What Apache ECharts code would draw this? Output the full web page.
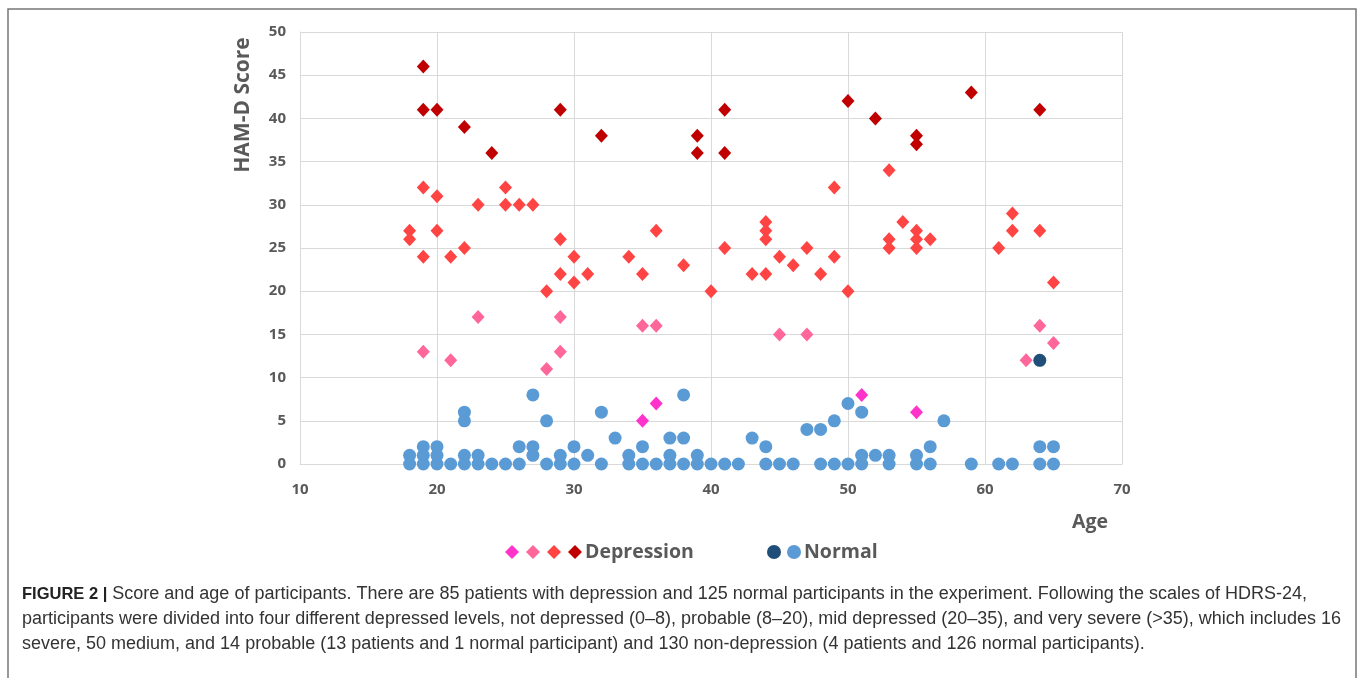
<!DOCTYPE html>
<html>
<head>
<meta charset="utf-8">
<script src="https://cdn.jsdelivr.net/npm/echarts@6/dist/echarts.min.js"></script>
<style>
html,body{margin:0;padding:0;background:#fff;}
#chart{width:1360px;height:678px;}
</style>
</head>
<body>
<div id="chart"></div>
<script>
// ---- data: [age, HAM-D score] ----
var notDepressedPatients = [[35,5],[36,7],[51,8],[55,6]];
var probablePatients = [[19,13],[21,12],[23,17],[28,11],[29,17],[29,13],[35,16],[36,16],[45,15],[47,15],[63,12],[64,16],[65,14]];
var midDepressed = [
  [18,27],[18,26],[19,32],[19,24],[20,31],[20,27],[21,24],[22,25],[23,30],[25,32],[25,30],[26,30],[27,30],
  [28,20],[29,26],[29,22],[30,24],[30,21],[31,22],[34,24],[35,22],[36,27],[38,23],[40,20],[41,25],[43,22],
  [44,28],[44,27],[44,26],[44,22],[45,24],[46,23],[47,25],[48,22],[49,32],[49,24],[50,20],
  [53,34],[53,26],[53,25],[54,28],[55,27],[55,26],[55,25],[56,26],[61,25],[62,29],[62,27],[64,27],[65,21]
];
var verySevere = [[19,46],[19,41],[20,41],[22,39],[24,36],[29,41],[32,38],[39,38],[39,36],[41,41],[41,36],[50,42],[52,40],[55,38],[55,37],[59,43],[64,41]];
var normalProbable = [[64,12]];
var normal = [
  [18,0],[18,1],[19,0],[19,1],[19,2],[20,0],[20,1],[20,2],[21,0],[22,0],[22,1],[22,5],[22,6],[23,0],[23,1],
  [24,0],[25,0],[26,0],[26,2],[27,1],[27,2],[27,8],[28,0],[28,5],[29,0],[29,1],[30,0],[30,2],[31,1],[32,0],[32,6],
  [33,3],[34,0],[34,1],[35,0],[35,2],[36,0],[37,0],[37,1],[37,3],[38,0],[38,3],[38,8],[39,0],[39,1],[40,0],[41,0],
  [42,0],[43,3],[44,0],[44,2],[45,0],[46,0],[47,4],[48,0],[48,4],[49,0],[49,5],[50,0],[50,7],[51,0],[51,1],[51,6],
  [52,1],[53,0],[53,1],[55,0],[55,1],[56,0],[56,2],[57,5],[59,0],[61,0],[62,0],[64,0],[64,2],[65,0],[65,2]
];
var xTicks = {min:10, max:70, interval:10};
var yTicks = {min:0, max:50, interval:5};
var captionBold = 'FIGURE 2 |';
var captionLines = [
  ' Score and age of participants. There are 85 patients with depression and 125 normal participants in the experiment. Following the scales of HDRS-24,',
  'participants were divided into four different depressed levels, not depressed (0\u20138), probable (8\u201320), mid depressed (20\u201335), and very severe (>35), which includes 16',
  'severe, 50 medium, and 14 probable (13 patients and 1 normal participant) and 130 non-depression (4 patients and 126 normal participants).'
];

var chart = echarts.init(document.getElementById('chart'), null, {renderer:'canvas'});
var gray = '#595959';
function dSeries(name, data, color){
  return {name:name, type:'scatter', data:data, symbol:'diamond', symbolSize:[13,14],
    itemStyle:{color:color, opacity:1}, z:3};
}
function cSeries(name, data, color){
  return {name:name, type:'scatter', data:data, symbol:'circle', symbolSize:13,
    itemStyle:{color:color, opacity:1}, z:2};
}
var option = {
  animation:false,
  backgroundColor:'#fff',
  grid:{left:300, right:238, top:32, bottom:214, containLabel:false, outerBoundsMode:'none'},
  xAxis:{type:'value', min:xTicks.min, max:xTicks.max, interval:xTicks.interval,
    name:'Age', nameLocation:'end', nameGap:0,
    nameTextStyle:{color:gray, fontSize:19.5, fontWeight:'bold', fontFamily:'Open Sans', align:'center', verticalAlign:'top', padding:[48,0,0,-64]},
    axisLine:{show:true, lineStyle:{color:'#d9d9d9', width:1}},
    axisTick:{show:false},
    axisLabel:{color:gray, fontSize:15, fontWeight:'bold', fontFamily:'Open Sans', margin:18},
    splitLine:{show:true, lineStyle:{color:'#d9d9d9', width:1}}
  },
  yAxis:{type:'value', min:yTicks.min, max:yTicks.max, interval:yTicks.interval,
    name:'HAM-D Score', nameLocation:'middle', nameRotate:90, nameGap:57,
    nameTextStyle:{color:gray, fontSize:21, fontWeight:'bold', fontFamily:'Open Sans', align:'center', verticalAlign:'middle', padding:[0,0,0,286]},
    axisLine:{show:true, lineStyle:{color:'#d9d9d9', width:1}},
    axisTick:{show:false},
    axisLabel:{color:gray, fontSize:15, fontWeight:'bold', fontFamily:'Open Sans', margin:14},
    splitLine:{show:true, lineStyle:{color:'#d9d9d9', width:1}}
  },
  legend:[
    {data:['d1','d2','d3','Depression'], left:500, top:537, itemWidth:14, itemHeight:14, itemGap:7,
     icon:'diamond', formatter:function(n){return n==='Depression'?'Depression':'';},
     textStyle:{color:gray, fontSize:19.5, fontWeight:'bold', fontFamily:'Open Sans', padding:[0,0,0,-2]}},
    {data:['n1','Normal'], left:762, top:537, itemWidth:14, itemHeight:14, itemGap:6,
     icon:'circle', formatter:function(n){return n==='Normal'?'Normal':'';},
     textStyle:{color:gray, fontSize:19.5, fontWeight:'bold', fontFamily:'Open Sans', padding:[0,0,0,-2]}}
  ],
  series:[
    cSeries('Normal', normal, '#5b9bd5'),
    cSeries('n1', normalProbable, '#1f4e79'),
    dSeries('d1', notDepressedPatients, '#ff33cc'),
    dSeries('d2', probablePatients, '#ff6699'),
    dSeries('d3', midDepressed, '#ff4444'),
    dSeries('Depression', verySevere, '#c00000')
  ],
  graphic:[
    {type:'rect', shape:{x:8, y:9, width:1348, height:700}, style:{fill:'none', stroke:'#777', lineWidth:1.5}, silent:true},
    {type:'text', left:22, top:585, style:{
      text:'{b|'+captionBold+'}{r|'+captionLines[0]+'}\n{r|'+captionLines[1]+'}\n{r|'+captionLines[2]+'}',
      rich:{
        b:{fontFamily:'Liberation Sans', fontWeight:'bold', fontSize:16.5, fill:'#222', lineHeight:25},
        r:{fontFamily:'Liberation Sans', fontSize:18, fill:'#333', lineHeight:25}
      }
    }}
  ]
};
chart.setOption(option);
</script>
</body>
</html>
